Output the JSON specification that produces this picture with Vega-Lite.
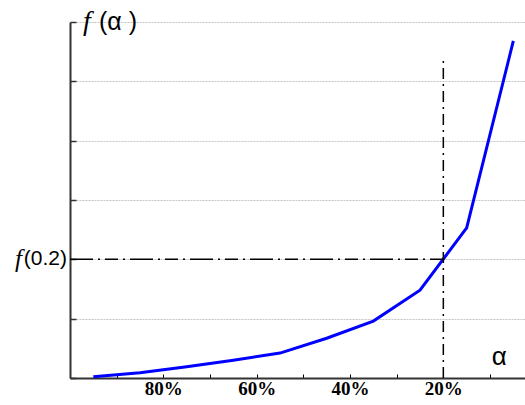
{
  "$schema": "https://vega.github.io/schema/vega-lite/v6.json",
  "width": 455,
  "height": 356,
  "autosize": {"type": "none"},
  "padding": {"left": 70, "top": 22, "right": 0, "bottom": 27},
  "background": "white",
  "config": {"view": {"stroke": null}},
  "layer": [
    {
      "data": {"values": [
        {"alpha": 95, "f": 0.02},
        {"alpha": 85, "f": 0.09},
        {"alpha": 75, "f": 0.19},
        {"alpha": 65, "f": 0.30},
        {"alpha": 55, "f": 0.42},
        {"alpha": 45, "f": 0.67},
        {"alpha": 35, "f": 0.96},
        {"alpha": 25, "f": 1.48},
        {"alpha": 15, "f": 2.53},
        {"alpha": 5, "f": 5.68}
      ]},
      "mark": {"type": "line", "color": "#0000ff", "strokeWidth": 3, "clip": false},
      "encoding": {
        "x": {
          "field": "alpha", "type": "quantitative",
          "scale": {"domain": [100, 2.5], "nice": false, "zero": false},
          "axis": {
            "values": [100, 95, 90, 85, 80, 75, 70, 65, 60, 55, 50, 45, 40, 35, 30, 25, 20, 15, 10, 5],
            "labelExpr": "(datum.value == 80 || datum.value == 60 || datum.value == 40 || datum.value == 20) ? datum.value + '%' : ''",
            "labelFont": "Liberation Serif", "labelFontWeight": "bold", "labelFontSize": 19, "labelColor": "black",
            "labelPadding": 5, "labelOverlap": false, "labelFlush": false,
            "tickSize": -4, "tickColor": "black", "tickWidth": 1,
            "domainColor": "#333333", "domainWidth": 2,
            "grid": false, "title": null
          }
        },
        "y": {
          "field": "f", "type": "quantitative",
          "scale": {"domain": [0, 6], "nice": false},
          "axis": {
            "values": [0, 1, 2, 3, 4, 5, 6],
            "labels": false,
            "tickSize": -6, "tickColor": "#333333", "tickWidth": 1.5,
            "domainColor": "#333333", "domainWidth": 2,
            "grid": true, "gridColor": "#c4c4c4", "gridDash": [2, 1], "gridWidth": 1,
            "title": null
          }
        }
      }
    },
    {
      "data": {"values": [{"a0": 100, "a1": 20, "f": 2}]},
      "mark": {"type": "rule", "color": "black", "strokeWidth": 1.5, "strokeDash": [23, 5, 2, 5, 13, 5, 2, 5]},
      "encoding": {
        "x": {"field": "a0", "type": "quantitative"},
        "x2": {"field": "a1"},
        "y": {"field": "f", "type": "quantitative"}
      }
    },
    {
      "data": {"values": [{"a": 20, "f0": 0, "f1": 5.36}]},
      "mark": {"type": "rule", "color": "black", "strokeWidth": 1.5, "strokeDash": [11, 5, 2, 5]},
      "encoding": {
        "x": {"field": "a", "type": "quantitative"},
        "y": {"field": "f0", "type": "quantitative"},
        "y2": {"field": "f1"}
      }
    },
    {
      "data": {"values": [{"a": 100, "f": 6, "t": "f"}]},
      "mark": {"type": "text", "font": "Liberation Serif", "fontStyle": "italic", "fontSize": 28, "align": "left", "baseline": "middle", "dx": 13, "dy": 0, "color": "black"},
      "encoding": {
        "x": {"field": "a", "type": "quantitative"},
        "y": {"field": "f", "type": "quantitative"},
        "text": {"field": "t"}
      }
    },
    {
      "data": {"values": [{"a": 100, "f": 6, "t": "(α )"}]},
      "mark": {"type": "text", "font": "Liberation Sans", "fontSize": 25, "align": "left", "baseline": "middle", "dx": 29, "dy": 0, "color": "black"},
      "encoding": {
        "x": {"field": "a", "type": "quantitative"},
        "y": {"field": "f", "type": "quantitative"},
        "text": {"field": "t"}
      }
    },
    {
      "data": {"values": [{"a": 100, "f": 2, "t": "(0.2)"}]},
      "mark": {"type": "text", "font": "Liberation Sans", "fontSize": 21, "align": "right", "baseline": "middle", "dx": -3, "dy": 0, "color": "black"},
      "encoding": {
        "x": {"field": "a", "type": "quantitative"},
        "y": {"field": "f", "type": "quantitative"},
        "text": {"field": "t"}
      }
    },
    {
      "data": {"values": [{"a": 100, "f": 2, "t": "f"}]},
      "mark": {"type": "text", "font": "Liberation Serif", "fontStyle": "italic", "fontSize": 25, "align": "right", "baseline": "middle", "dx": -48, "dy": 0, "color": "black"},
      "encoding": {
        "x": {"field": "a", "type": "quantitative"},
        "y": {"field": "f", "type": "quantitative"},
        "text": {"field": "t"}
      }
    },
    {
      "data": {"values": [{"a": 8, "f": 0.35, "t": "α"}]},
      "mark": {"type": "text", "font": "Liberation Sans", "fontSize": 26, "align": "center", "baseline": "middle", "color": "black"},
      "encoding": {
        "x": {"field": "a", "type": "quantitative"},
        "y": {"field": "f", "type": "quantitative"},
        "text": {"field": "t"}
      }
    }
  ]
}
